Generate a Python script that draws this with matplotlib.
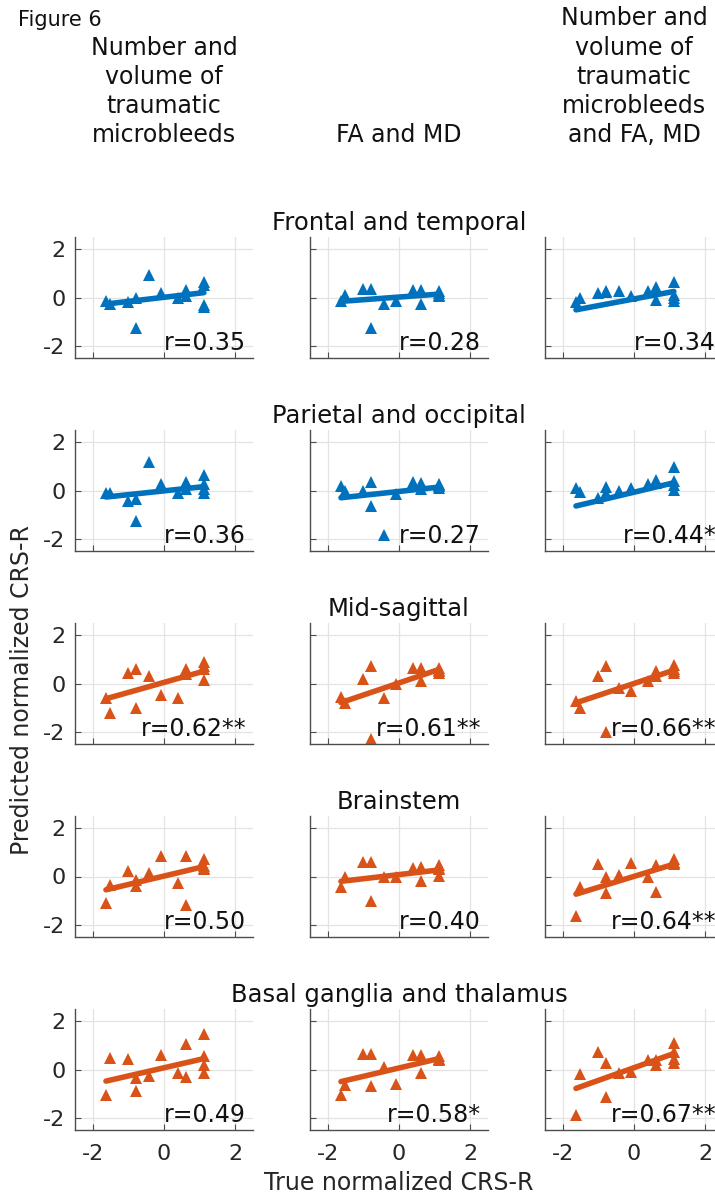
import matplotlib
matplotlib.use("Agg")
import matplotlib.pyplot as plt

plt.rcParams['font.family'] = ['DejaVu Sans']
plt.rcParams['axes.unicode_minus'] = False

# true normalized CRS-R of the 14 patients (shared by all panels)
true_crs = [-1.63, -1.52, -1.0, -0.78, -0.78, -0.42, -0.08, 0.39, 0.63, 0.63, 1.12, 1.12, 1.12, 1.12]

model_names = [
    "Number and\nvolume of\ntraumatic\nmicrobleeds",
    "FA and MD",
    "Number and\nvolume of\ntraumatic\nmicrobleeds\nand FA, MD",
]
region_names = [
    "Frontal and temporal",
    "Parietal and occipital",
    "Mid-sagittal",
    "Brainstem",
    "Basal ganglia and thalamus",
]

# predicted normalized CRS-R, one list per region / model
frontal_mb = [-0.14, -0.27, -0.2, -0.03, -1.26, 0.93, 0.2, 0.0, 0.32, 0.08, 0.66, 0.52, -0.3, -0.41]
frontal_dti = [-0.14, 0.11, 0.36, 0.36, -1.26, -0.27, -0.14, 0.32, 0.32, -0.27, 0.27, 0.2, 0.11, 0.08]
frontal_both = [-0.19, -0.03, 0.2, 0.27, 0.22, 0.25, 0.08, 0.27, 0.45, -0.1, 0.63, 0.1, 0.0, -0.14]

parietal_mb = [-0.1, -0.12, -0.45, -0.34, -1.27, 1.16, 0.27, -0.1, 0.34, 0.07, 0.62, 0.27, 0.07, -0.11]
parietal_dti = [0.18, 0.0, 0.0, 0.37, -0.62, -1.85, -0.14, 0.34, 0.32, 0.05, 0.27, 0.22, 0.17, 0.12]
parietal_both = [0.1, -0.07, -0.3, 0.14, -0.1, -0.02, 0.1, 0.27, 0.45, 0.3, 0.96, 0.41, 0.23, 0.04]

midsag_mb = [-0.6, -1.23, 0.44, 0.58, -1.0, 0.3, -0.48, -0.6, 0.58, 0.4, 0.9, 0.72, 0.58, 0.16]
midsag_dti = [-0.55, -0.8, 0.19, 0.71, -2.3, -0.59, -0.04, 0.64, 0.64, 0.12, 0.62, 0.55, 0.5, 0.45]
midsag_both = [-0.73, -1.0, 0.3, 0.71, -1.99, -0.18, -0.29, 0.1, 0.53, 0.3, 0.78, 0.6, 0.5, 0.44]

brain_mb = [-1.1, -0.34, 0.21, -0.14, -0.41, 0.14, 0.86, -0.27, 0.86, -1.19, 0.73, 0.45, 0.36, 0.3]
brain_dti = [-0.45, -0.04, 0.59, 0.58, -1.03, 0.0, 0.0, 0.37, 0.41, -0.18, 0.48, 0.35, 0.3, 0.04]
brain_both = [-1.62, -0.42, 0.51, 0.0, -0.68, 0.07, 0.55, 0.0, 0.48, -0.62, 0.73, 0.6, 0.55, 0.5]

basal_mb = [-1.05, 0.48, 0.42, -0.37, -0.89, -0.27, 0.61, -0.14, 1.06, -0.3, 1.45, 0.56, 0.2, -0.16]
basal_dti = [-1.05, -0.64, 0.65, 0.65, -0.68, 0.11, -0.6, 0.61, 0.61, -0.14, 0.55, 0.45, 0.42, 0.4]
basal_both = [-1.87, -0.19, 0.72, 0.25, -1.12, -0.16, -0.1, 0.41, 0.41, 0.2, 1.1, 0.72, 0.45, 0.25]

# fitted line values at min / max true CRS-R, per region (3 models)
fit_start_frontal = [-0.27, -0.16, -0.51]
fit_end_frontal = [0.2, 0.14, 0.25]
fit_start_parietal = [-0.27, -0.3, -0.64]
fit_end_parietal = [0.16, 0.14, 0.32]
fit_start_midsag = [-0.63, -0.79, -0.8]
fit_end_midsag = [0.51, 0.58, 0.55]
fit_start_brain = [-0.55, -0.2, -0.73]
fit_end_brain = [0.41, 0.27, 0.51]
fit_start_basal = [-0.48, -0.5, -0.78]
fit_end_basal = [0.45, 0.45, 0.66]

r_frontal = ["r=0.35", "r=0.28", "r=0.34"]
r_parietal = ["r=0.36", "r=0.27", "r=0.44*"]
r_midsag = ["r=0.62**", "r=0.61**", "r=0.66**"]
r_brain = ["r=0.50", "r=0.40", "r=0.64**"]
r_basal = ["r=0.49", "r=0.58*", "r=0.67**"]

predicted = [
    [frontal_mb, frontal_dti, frontal_both],
    [parietal_mb, parietal_dti, parietal_both],
    [midsag_mb, midsag_dti, midsag_both],
    [brain_mb, brain_dti, brain_both],
    [basal_mb, basal_dti, basal_both],
]
fit_start = [fit_start_frontal, fit_start_parietal, fit_start_midsag, fit_start_brain, fit_start_basal]
fit_end = [fit_end_frontal, fit_end_parietal, fit_end_midsag, fit_end_brain, fit_end_basal]
r_text = [r_frontal, r_parietal, r_midsag, r_brain, r_basal]

blue = "#0072BD"
orange = "#D95319"
row_colors = [blue, blue, orange, orange, orange]

W, H = 715, 1196
fig = plt.figure(figsize=(W / 100, H / 100), dpi=100)

col_left = [75, 310, 545]
ax_w = 178
ax_h = 121
row_top = [237, 430, 623, 816, 1009]

x_min = min(true_crs)
x_max = max(true_crs)

for r in range(5):
    for c in range(3):
        ax = fig.add_axes([col_left[c] / W, 1 - (row_top[r] + ax_h) / H, ax_w / W, ax_h / H])

        color = row_colors[r]

        ax.plot(true_crs, predicted[r][c], linestyle="none", marker="^",
                markersize=8, color=color, markeredgewidth=0)

        ax.plot([x_min, x_max], [fit_start[r][c], fit_end[r][c]],
                color=color, linewidth=4, solid_capstyle="round")

        ax.text(2.31, -1.9, r_text[r][c], ha="right", va="center",
                fontsize=17, color="#111111")

        ax.set_xlim(-2.5, 2.5)
        ax.set_ylim(-2.5, 2.5)
        ax.set_xticks([-2, 0, 2])
        ax.set_yticks([-2, 0, 2])
        ax.grid(True, color="#e3e3e3", linewidth=0.9)
        ax.set_axisbelow(True)

        for side in ["top", "right"]:
            ax.spines[side].set_visible(False)
        for side in ["left", "bottom"]:
            ax.spines[side].set_color("#4d4d4d")
            ax.spines[side].set_linewidth(1.0)

        ax.tick_params(direction="in", length=4, width=0.8, color="#4d4d4d",
                       labelsize=16, labelcolor="#262626")
        ax.tick_params(axis="y", pad=7)
        ax.tick_params(axis="x", pad=10)

        if c != 0:
            ax.set_yticklabels([])
        if r != 4:
            ax.set_xticklabels([])

        if c == 1:
            ax.set_title(region_names[r], fontsize=17.5, pad=5, color="#111111")

# column headers
for c in range(3):
    cx = (col_left[c] + ax_w / 2) / W
    fig.text(cx, 1 - 147 / H, model_names[c], ha="center", va="bottom",
             fontsize=17, linespacing=1.27, color="#111111")

fig.text(18 / W, 1 - 20 / H, "Figure 6", ha="left", va="center", fontsize=15, color="#111111")

fig.text(399 / W, 1 - 1183 / H, "True normalized CRS-R", ha="center", va="center",
         fontsize=17, color="#262626")
fig.text(22 / W, 1 - 690 / H, "Predicted normalized CRS-R", ha="center", va="center",
         rotation=90, fontsize=17, color="#262626")

fig.savefig("out.png", dpi=100)
